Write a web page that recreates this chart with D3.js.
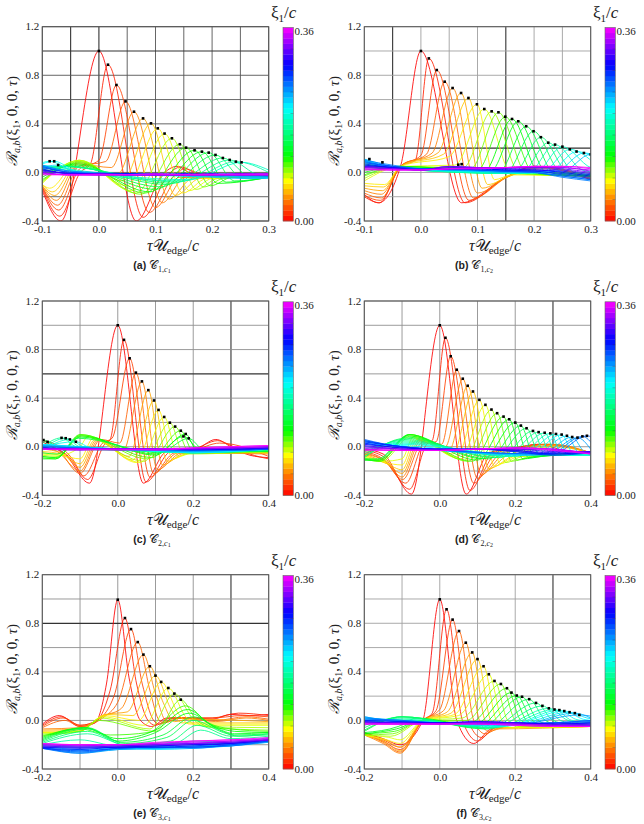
<!DOCTYPE html>
<html>
<head>
<meta charset="utf-8">
<script src="https://cdn.jsdelivr.net/npm/d3@7"></script>
<style>
  body { margin: 0; background: #fff; }
</style>
</head>
<body>
<script>
// colour levels of xi_1/c
var xiLevels = [0.00, 0.01, 0.02, 0.03, 0.04, 0.05, 0.06, 0.07, 0.08, 0.09,
    0.10, 0.11, 0.12, 0.13, 0.14, 0.15, 0.16, 0.17, 0.18, 0.19,
    0.20, 0.21, 0.22, 0.23, 0.24, 0.25, 0.26, 0.27, 0.28, 0.29,
    0.30, 0.31, 0.32, 0.33, 0.34, 0.35, 0.36];
var colorStops = [0, 0.04, 0.075, 0.12, 0.21, 0.29, 0.36];
var colorRange = ["#ff0000", "#ff8000", "#ffff00", "#00ff00", "#00ffff", "#0000ff", "#ff00ff"];

var yTicks = [-0.4, 0.0, 0.4, 0.8, 1.2];
var yGrid = [-0.4, -0.2, 0.0, 0.2, 0.4, 0.6, 0.8, 1.0, 1.2];
var xTicksAB = [-0.1, 0.0, 0.1, 0.2, 0.3];
var xGridAB = [-0.1, -0.05, 0.0, 0.05, 0.1, 0.15, 0.2, 0.25, 0.3];
var xTicksCF = [-0.2, 0.0, 0.2, 0.4];
var xGridCF = [-0.2, -0.1, 0.0, 0.1, 0.2, 0.3, 0.4];
var flatTauAB = [-0.1, -0.05, 0.0, 0.05, 0.1, 0.15, 0.2, 0.25, 0.3];
var flatTauCF = [-0.2, -0.1, 0.0, 0.1, 0.2, 0.3, 0.4];

// (a) knots [tau, R, tau, R, ...]
var curvesA = [
    [-0.1,-0.15, -0.067,-0.40, 0,1.0, 0.066,-0.40, 0.112,-0.02, 0.138,0.05, 0.165,-0.01, 0.3,-0.03],
    [-0.1,-0.13, -0.069,-0.36, -0.033,0.0, -0.015,0.07, 0.016,0.887, 0.078,-0.37, 0.122,-0.02, 0.145,0.045, 0.175,-0.01, 0.3,-0.03],
    [-0.1,-0.12, -0.071,-0.31, -0.034,0.03, 0.0,0.10, 0.031,0.72, 0.089,-0.33, 0.132,-0.03, 0.152,0.03, 0.185,-0.02, 0.3,-0.03],
    [-0.1,-0.12, -0.073,-0.27, -0.035,0.05, 0.012,0.09, 0.047,0.585, 0.10,-0.29, 0.142,-0.04, 0.3,-0.03],
    [-0.1,-0.11, -0.075,-0.23, -0.036,0.07, 0.022,0.04, 0.062,0.50, 0.112,-0.25, 0.152,-0.04, 0.3,-0.03],
    [-0.1,-0.11, -0.078,-0.19, -0.036,0.08, 0.032,-0.02, 0.078,0.445, 0.124,-0.22, 0.165,-0.05, 0.3,-0.03],
    [-0.1,-0.10, -0.082,-0.16, -0.036,0.09, 0.042,-0.07, 0.092,0.404, 0.135,-0.19, 0.178,-0.05, 0.3,-0.03],
    [-0.1,-0.10, -0.087,-0.13, -0.036,0.10, 0.05,-0.11, 0.104,0.363, 0.148,-0.17, 0.19,-0.05, 0.3,-0.03],
    [-0.1,-0.09, -0.035,0.10, 0.058,-0.15, 0.116,0.32, 0.16,-0.15, 0.2,-0.05, 0.3,-0.03],
    [-0.1,-0.08, -0.034,0.10, 0.066,-0.17, 0.129,0.281, 0.172,-0.14, 0.21,-0.05, 0.3,-0.03],
    [-0.1,-0.07, -0.034,0.09, 0.074,-0.18, 0.143,0.232, 0.185,-0.12, 0.22,-0.05, 0.3,-0.03],
    [-0.1,-0.06, -0.035,0.08, 0.082,-0.17, 0.154,0.204, 0.197,-0.11, 0.235,-0.04, 0.3,-0.03],
    [-0.1,-0.04, -0.038,0.07, 0.09,-0.16, 0.169,0.182, 0.21,-0.09, 0.3,-0.04],
    [-0.1,-0.02, -0.042,0.06, 0.10,-0.14, 0.182,0.171, 0.225,-0.08, 0.3,-0.04],
    [-0.1,0.0, -0.048,0.05, 0.11,-0.12, 0.194,0.163, 0.24,-0.07, 0.3,-0.04],
    [-0.1,0.02, -0.055,0.05, 0.12,-0.10, 0.206,0.144, 0.255,-0.05, 0.3,-0.04],
    [-0.1,0.03, -0.06,0.05, 0.13,-0.09, 0.219,0.119, 0.27,-0.04, 0.3,-0.03],
    [-0.1,0.04, -0.07,0.05, 0.14,-0.08, 0.231,0.103, 0.285,-0.02, 0.31,-0.02],
    [-0.1,0.05, 0.15,-0.07, 0.242,0.089, 0.3,0.0],
    [-0.1,0.06, 0.16,-0.06, 0.252,0.083, 0.3,0.02],
    [-0.11,0.06, -0.087,0.092, -0.05,0.02, 0.0,-0.01, 0.15,-0.03, 0.3,-0.04],
    [-0.11,0.05, -0.079,0.092, -0.04,0.01, 0.0,-0.01, 0.15,-0.02, 0.3,-0.04],
    [-0.11,0.03, -0.072,0.061, -0.04,0.0, 0.1,-0.02, 0.3,-0.03]
];
var flatA = [
    [0.05, 0.01, -0.01, -0.02, -0.02, -0.03, -0.04, -0.05, -0.05],
    [0.05, 0.0, -0.01, -0.01, -0.02, -0.02, -0.03, -0.04, -0.04],
    [0.06, 0.01, 0.0, -0.01, -0.01, -0.02, -0.02, -0.03, -0.03],
    [0.05, 0.0, -0.01, -0.01, -0.02, -0.02, -0.02, -0.02, -0.03],
    [0.04, 0.0, -0.01, -0.01, -0.02, -0.01, -0.02, -0.02, -0.02],
    [0.03, -0.01, -0.01, -0.02, -0.02, -0.02, -0.01, -0.02, -0.02],
    [0.02, -0.01, -0.02, -0.01, -0.02, -0.02, -0.02, -0.01, -0.02],
    [0.02, -0.01, -0.01, -0.02, -0.02, -0.01, -0.02, -0.02, -0.01],
    [0.01, -0.01, -0.02, -0.02, -0.01, -0.02, -0.02, -0.01, -0.02],
    [0.0, -0.02, -0.02, -0.02, -0.02, -0.02, -0.01, -0.02, -0.02],
    [0.0, -0.02, -0.01, -0.02, -0.02, -0.02, -0.02, -0.02, -0.01],
    [-0.01, -0.02, -0.02, -0.02, -0.02, -0.02, -0.02, -0.01, -0.01],
    [-0.01, -0.02, -0.02, -0.02, -0.01, -0.02, -0.02, -0.02, -0.02],
    [-0.02, -0.02, -0.02, -0.02, -0.02, -0.02, -0.02, -0.02, -0.02]
];
var dotsA = [[0,1.0],[0.016,0.887],[0.031,0.72],[0.047,0.585],[0.062,0.5],[0.078,0.445],[0.092,0.404],
    [0.104,0.363],[0.116,0.32],[0.129,0.281],[0.143,0.232],[0.154,0.204],[0.169,0.182],[0.182,0.171],
    [0.194,0.163],[0.206,0.144],[0.219,0.119],[0.231,0.103],[0.242,0.089],[0.252,0.083],
    [-0.087,0.092],[-0.079,0.092],[-0.072,0.061]];

// (b)
var curvesB = [
    [-0.1,-0.18, -0.075,-0.25, -0.036,0.05, 0,1.0, 0.072,-0.25, 0.15,-0.04, 0.2,0.05, 0.25,0.02, 0.3,-0.06],
    [-0.1,-0.2, -0.073,-0.25, -0.036,0.05, -0.01,0.1, 0.014,0.939, 0.078,-0.25, 0.15,-0.04, 0.2,0.05, 0.3,-0.06],
    [-0.1,-0.19, -0.072,-0.23, -0.036,0.05, 0.0,0.14, 0.028,0.843, 0.085,-0.23, 0.15,-0.04, 0.2,0.05, 0.3,-0.05],
    [-0.1,-0.17, -0.07,-0.21, -0.036,0.05, 0.01,0.15, 0.042,0.747, 0.093,-0.21, 0.152,-0.04, 0.21,0.05, 0.3,-0.05],
    [-0.1,-0.15, -0.07,-0.18, -0.036,0.05, 0.02,0.16, 0.056,0.695, 0.1,-0.17, 0.152,-0.04, 0.21,0.04, 0.3,-0.05],
    [-0.1,-0.13, -0.068,-0.15, -0.036,0.05, 0.03,0.16, 0.071,0.654, 0.108,-0.13, 0.154,-0.03, 0.22,0.04, 0.3,-0.04],
    [-0.1,-0.11, -0.066,-0.12, -0.036,0.05, 0.04,0.15, 0.084,0.613, 0.118,-0.10, 0.156,-0.03, 0.22,0.03, 0.3,-0.04],
    [-0.1,-0.09, -0.064,-0.10, -0.036,0.05, 0.05,0.13, 0.099,0.561, 0.13,-0.06, 0.16,-0.02, 0.3,-0.03],
    [-0.1,-0.07, -0.036,0.05, 0.06,0.06, 0.112,0.522, 0.16,-0.01, 0.3,-0.03],
    [-0.1,-0.05, -0.036,0.05, 0.075,0.04, 0.125,0.503, 0.175,-0.01, 0.3,-0.03],
    [-0.1,-0.03, -0.036,0.05, 0.088,0.03, 0.137,0.495, 0.187,-0.01, 0.3,-0.03],
    [-0.1,-0.02, -0.036,0.05, 0.1,0.02, 0.149,0.459, 0.2,-0.01, 0.3,-0.03],
    [-0.1,0.0, -0.036,0.05, 0.112,0.01, 0.161,0.44, 0.21,-0.01, 0.3,-0.03],
    [-0.1,0.02, -0.036,0.04, 0.123,0.01, 0.172,0.421, 0.222,0.0, 0.3,-0.03],
    [-0.1,0.04, -0.036,0.04, 0.137,0.0, 0.186,0.38, 0.235,0.0, 0.3,-0.02],
    [-0.1,0.06, -0.036,0.03, 0.15,0.0, 0.199,0.339, 0.248,0.0, 0.3,-0.02],
    [-0.1,0.07, -0.036,0.03, 0.163,-0.01, 0.212,0.29, 0.26,0.0, 0.3,-0.02],
    [-0.1,0.08, -0.036,0.03, 0.176,-0.01, 0.225,0.245, 0.272,0.0, 0.31,-0.01],
    [-0.1,0.09, -0.036,0.03, 0.188,-0.01, 0.237,0.229, 0.285,0.02, 0.31,0.0],
    [-0.1,0.1, -0.036,0.03, 0.2,-0.01, 0.25,0.212, 0.3,0.04, 0.32,0.02],
    [-0.1,0.1, -0.036,0.03, 0.213,0.0, 0.263,0.19, 0.31,0.06],
    [-0.1,0.11, -0.036,0.03, 0.225,0.0, 0.275,0.172, 0.32,0.08],
    [-0.1,0.1, -0.036,0.03, 0.238,0.01, 0.288,0.16, 0.33,0.09],
    [-0.1,0.09, -0.036,0.03, 0.25,0.01, 0.3,0.149, 0.34,0.1]
];
var flatB = [
    [0.11, 0.05, 0.03, 0.02, 0.01, 0.0, 0.0, -0.03, -0.06],
    [0.1, 0.06, 0.03, 0.02, 0.02, 0.01, 0.0, -0.04, -0.07],
    [0.09, 0.05, 0.03, 0.03, 0.02, 0.01, 0.0, -0.03, -0.06],
    [0.08, 0.05, 0.03, 0.03, 0.02, 0.01, 0.01, -0.02, -0.05],
    [0.07, 0.04, 0.02, 0.03, 0.03, 0.02, 0.01, -0.01, -0.04],
    [0.06, 0.04, 0.02, 0.03, 0.03, 0.02, 0.02, 0.0, -0.03],
    [0.05, 0.04, 0.02, 0.04, 0.04, 0.03, 0.02, 0.01, -0.02],
    [0.05, 0.03, 0.02, 0.05, 0.04, 0.03, 0.03, 0.02, -0.01],
    [0.04, 0.03, 0.02, 0.05, 0.04, 0.04, 0.04, 0.03, 0.0],
    [0.04, 0.03, 0.02, 0.03, 0.04, 0.04, 0.04, 0.04, 0.01],
    [0.03, 0.02, 0.02, 0.03, 0.04, 0.04, 0.05, 0.04, 0.02],
    [0.03, 0.02, 0.02, 0.03, 0.03, 0.04, 0.05, 0.05, 0.03],
    [0.02, 0.02, 0.02, 0.03, 0.03, 0.04, 0.05, 0.05, 0.04]
];
var dotsB = [[0,1.0],[0.014,0.939],[0.028,0.843],[0.042,0.747],[0.056,0.695],[0.071,0.654],[0.084,0.613],
    [0.099,0.561],[0.112,0.522],[0.125,0.503],[0.137,0.495],[0.149,0.459],[0.161,0.44],[0.172,0.421],
    [0.186,0.38],[0.199,0.339],[0.212,0.29],[0.225,0.245],[0.237,0.229],[0.25,0.212],[0.263,0.19],
    [0.275,0.172],[0.288,0.16],[0.3,0.149],[-0.091,0.11],[-0.068,0.083],[0.066,0.064],[0.072,0.068]];

// (c)
var curvesC = [
    [-0.2,0.04, -0.175,0.0, -0.14,-0.06, -0.075,-0.30, 0,1.0, 0.068,-0.30, 0.13,-0.04, 0.2,-0.03, 0.26,0.06, 0.3,0.0, 0.35,-0.07, 0.4,-0.09],
    [-0.2,0.06, -0.17,0.0, -0.13,-0.08, -0.08,-0.27, -0.035,0.02, -0.02,0.06, 0.0164,0.88, 0.075,-0.29, 0.14,-0.04, 0.2,-0.02, 0.265,0.05, 0.3,0.01, 0.35,-0.06, 0.4,-0.1],
    [-0.2,0.05, -0.165,0.02, -0.12,-0.1, -0.09,-0.24, -0.04,0.03, -0.015,0.07, 0.0314,0.728, 0.085,-0.25, 0.15,-0.05, 0.2,-0.03, 0.27,0.03, 0.4,-0.08],
    [-0.2,0.02, -0.16,-0.02, -0.1,-0.22, -0.045,0.06, 0.005,0.03, 0.048,0.61, 0.095,-0.22, 0.16,-0.05, 0.4,-0.06],
    [-0.2,0.0, -0.16,-0.04, -0.1,-0.2, -0.05,0.06, 0.015,-0.03, 0.064,0.538, 0.105,-0.19, 0.17,-0.05, 0.4,-0.05],
    [-0.2,-0.02, -0.15,-0.05, -0.1,-0.17, -0.055,0.06, 0.03,-0.08, 0.081,0.466, 0.118,-0.15, 0.18,-0.05, 0.4,-0.05],
    [-0.2,-0.04, -0.15,-0.06, -0.1,-0.14, -0.06,0.06, 0.04,-0.11, 0.096,0.381, 0.13,-0.12, 0.19,-0.05, 0.4,-0.05],
    [-0.2,-0.05, -0.15,-0.07, -0.1,-0.1, -0.065,0.07, 0.05,-0.13, 0.108,0.303, 0.145,-0.1, 0.2,-0.04, 0.4,-0.05],
    [-0.2,-0.06, -0.155,-0.07, -0.1,0.0, -0.08,0.08, 0.06,-0.13, 0.123,0.245, 0.16,-0.08, 0.21,-0.04, 0.4,-0.04],
    [-0.2,-0.07, -0.16,-0.08, -0.095,0.09, 0.07,-0.12, 0.138,0.198, 0.175,-0.06, 0.4,-0.04],
    [-0.2,-0.08, -0.16,-0.09, -0.098,0.1, 0.08,-0.1, 0.152,0.166, 0.19,-0.05, 0.4,-0.04],
    [-0.2,-0.09, -0.165,-0.1, -0.1,0.1, 0.09,-0.09, 0.167,0.132, 0.2,-0.04, 0.4,-0.04],
    [-0.2,-0.1, -0.165,-0.1, -0.1,0.09, 0.1,-0.07, 0.18,0.105, 0.21,-0.03, 0.4,-0.04],
    [-0.2,-0.08, -0.165,-0.09, -0.1,0.08, 0.1,-0.06, 0.174,0.085, 0.22,-0.03, 0.4,-0.04],
    [-0.2,-0.05, -0.16,-0.06, -0.105,0.07, 0.11,-0.05, 0.188,0.069, 0.23,-0.03, 0.4,-0.04],
    [-0.21,0.05, -0.197,0.055, -0.16,0.0, -0.1,-0.02, 0.0,-0.03, 0.2,-0.05, 0.4,-0.03],
    [-0.21,0.03, -0.186,0.04, -0.16,0.0, -0.1,-0.01, 0.0,-0.02, 0.2,-0.05, 0.4,-0.03],
    [-0.2,0.0, -0.149,0.073, -0.11,0.0, -0.05,-0.02, 0.1,-0.03, 0.2,-0.05, 0.4,-0.02],
    [-0.2,-0.02, -0.138,0.07, -0.1,0.0, -0.05,-0.01, 0.1,-0.03, 0.2,-0.04, 0.4,-0.02],
    [-0.2,-0.03, -0.127,0.06, -0.09,0.0, 0.0,-0.02, 0.2,-0.04, 0.4,-0.02],
    [-0.2,0.0, -0.111,0.041, -0.07,-0.01, 0.0,-0.02, 0.2,-0.04, 0.4,-0.02]
];
var flatC = [
    [0.02, 0.0, -0.02, -0.04, -0.05, -0.04, -0.02],
    [0.02, 0.0, -0.02, -0.03, -0.05, -0.04, -0.02],
    [0.01, 0.0, -0.02, -0.03, -0.04, -0.03, -0.02],
    [0.01, -0.01, -0.02, -0.03, -0.04, -0.03, -0.02],
    [0.0, -0.01, -0.02, -0.03, -0.03, -0.03, -0.02],
    [0.0, -0.01, -0.02, -0.02, -0.03, -0.03, -0.02],
    [-0.01, -0.02, -0.02, -0.02, -0.03, -0.02, -0.02],
    [-0.01, -0.02, -0.02, -0.02, -0.02, -0.02, -0.01],
    [-0.01, -0.02, -0.02, -0.02, -0.02, -0.02, -0.01],
    [-0.02, -0.02, -0.02, -0.02, -0.02, -0.02, -0.01],
    [-0.02, -0.02, -0.02, -0.02, -0.02, -0.01, -0.01],
    [-0.02, -0.02, -0.02, -0.02, -0.02, -0.01, 0.0],
    [-0.02, -0.03, -0.02, -0.02, -0.02, -0.01, 0.0],
    [-0.02, -0.02, -0.03, -0.02, -0.01, -0.01, 0.0],
    [-0.02, -0.02, -0.02, -0.03, -0.01, 0.0, 0.01],
    [-0.02, -0.02, -0.02, -0.02, -0.01, 0.0, 0.01]
];
var dotsC = [[0,1.0],[0.0164,0.88],[0.0314,0.728],[0.048,0.61],[0.064,0.538],[0.081,0.466],[0.096,0.381],
    [0.108,0.303],[0.123,0.245],[0.138,0.198],[0.152,0.166],[0.167,0.132],[0.18,0.105],[0.174,0.085],
    [0.188,0.069],[-0.197,0.055],[-0.186,0.04],[-0.149,0.073],[-0.138,0.07],[-0.127,0.06],[-0.111,0.041]];

// (d)
var curvesD = [
    [-0.2,-0.02, -0.15,-0.06, -0.075,-0.39, 0,1.0, 0.07,-0.39, 0.13,-0.05, 0.2,-0.01, 0.26,0.02, 0.33,-0.03, 0.4,-0.05],
    [-0.2,-0.03, -0.15,-0.08, -0.08,-0.35, -0.035,0.02, -0.02,0.05, 0.015,0.897, 0.08,-0.36, 0.14,-0.05, 0.2,-0.01, 0.27,0.02, 0.4,-0.05],
    [-0.2,-0.04, -0.15,-0.1, -0.09,-0.3, -0.04,0.03, -0.01,0.04, 0.029,0.745, 0.09,-0.3, 0.15,-0.05, 0.2,-0.02, 0.28,0.02, 0.4,-0.05],
    [-0.2,-0.05, -0.145,-0.12, -0.098,-0.27, -0.045,0.04, 0.005,0.02, 0.045,0.634, 0.1,-0.26, 0.16,-0.06, 0.29,0.02, 0.4,-0.05],
    [-0.2,-0.06, -0.14,-0.13, -0.1,-0.25, -0.05,0.05, 0.015,0.0, 0.061,0.56, 0.11,-0.23, 0.17,-0.06, 0.3,0.02, 0.4,-0.05],
    [-0.2,-0.06, -0.14,-0.14, -0.1,-0.22, -0.055,0.05, 0.025,-0.03, 0.074,0.502, 0.12,-0.2, 0.18,-0.07, 0.3,0.01, 0.4,-0.05],
    [-0.2,-0.07, -0.14,-0.14, -0.1,-0.19, -0.06,0.06, 0.035,-0.06, 0.088,0.455, 0.13,-0.18, 0.19,-0.08, 0.3,0.0, 0.4,-0.05],
    [-0.2,-0.07, -0.145,-0.13, -0.1,-0.15, -0.065,0.07, 0.045,-0.08, 0.105,0.386, 0.145,-0.16, 0.2,-0.08, 0.4,-0.05],
    [-0.2,-0.08, -0.15,-0.12, -0.1,-0.1, -0.07,0.08, 0.055,-0.1, 0.121,0.345, 0.16,-0.14, 0.21,-0.08, 0.4,-0.05],
    [-0.2,-0.09, -0.155,-0.12, -0.075,0.09, 0.065,-0.11, 0.137,0.306, 0.175,-0.13, 0.22,-0.08, 0.4,-0.05],
    [-0.2,-0.1, -0.16,-0.12, -0.078,0.1, 0.075,-0.12, 0.152,0.276, 0.19,-0.12, 0.24,-0.08, 0.4,-0.05],
    [-0.2,-0.1, -0.16,-0.12, -0.08,0.1, 0.085,-0.12, 0.169,0.248, 0.205,-0.11, 0.25,-0.08, 0.4,-0.05],
    [-0.2,-0.11, -0.16,-0.11, -0.082,0.1, 0.1,-0.11, 0.184,0.226, 0.22,-0.1, 0.27,-0.08, 0.4,-0.05],
    [-0.2,-0.11, -0.165,-0.11, -0.085,0.09, 0.115,-0.1, 0.2,0.199, 0.235,-0.09, 0.29,-0.07, 0.4,-0.05],
    [-0.2,-0.1, -0.165,-0.1, -0.088,0.08, 0.13,-0.1, 0.215,0.174, 0.25,-0.08, 0.31,-0.07, 0.4,-0.05],
    [-0.2,-0.09, -0.09,0.07, 0.145,-0.09, 0.23,0.152, 0.265,-0.07, 0.4,-0.05],
    [-0.2,-0.08, -0.095,0.06, 0.16,-0.09, 0.247,0.13, 0.28,-0.07, 0.4,-0.06],
    [-0.2,-0.06, -0.1,0.05, 0.175,-0.08, 0.262,0.12, 0.295,-0.07, 0.4,-0.06],
    [-0.2,-0.04, -0.1,0.04, 0.19,-0.08, 0.278,0.115, 0.31,-0.07, 0.4,-0.07],
    [-0.2,-0.02, -0.1,0.03, 0.205,-0.08, 0.293,0.11, 0.325,-0.07, 0.4,-0.07],
    [-0.2,0.0, -0.1,0.02, 0.22,-0.07, 0.308,0.105, 0.34,-0.07, 0.4,-0.07],
    [-0.2,0.02, -0.1,0.01, 0.235,-0.07, 0.323,0.1, 0.355,-0.06, 0.4,-0.06],
    [-0.2,0.03, -0.1,0.0, 0.25,-0.07, 0.337,0.09, 0.37,-0.05, 0.41,-0.05],
    [-0.2,0.04, -0.1,0.0, 0.265,-0.07, 0.351,0.08, 0.385,-0.04, 0.42,-0.04],
    [-0.2,0.05, -0.1,0.0, 0.28,-0.06, 0.365,0.075, 0.4,-0.02],
    [-0.2,0.05, -0.1,0.0, 0.29,-0.06, 0.378,0.085, 0.41,0.0],
    [-0.2,0.06, -0.1,0.0, 0.3,-0.06, 0.39,0.09, 0.42,0.04]
];
var flatD = [
    [0.05, 0.0, -0.02, -0.02, -0.04, -0.06, -0.05],
    [0.04, 0.0, -0.02, -0.02, -0.04, -0.07, -0.05],
    [0.03, -0.01, -0.02, -0.02, -0.03, -0.06, -0.04],
    [0.02, -0.01, -0.02, -0.02, -0.03, -0.05, -0.04],
    [0.01, -0.02, -0.03, -0.02, -0.02, -0.04, -0.04],
    [0.0, -0.02, -0.03, -0.02, -0.02, -0.03, -0.05],
    [-0.01, -0.02, -0.03, -0.02, -0.01, -0.02, -0.05],
    [-0.02, -0.03, -0.03, -0.02, -0.01, -0.02, -0.06],
    [-0.02, -0.03, -0.03, -0.02, -0.01, -0.02, -0.06],
    [-0.03, -0.03, -0.03, -0.02, -0.01, -0.03, -0.06]
];
var dotsD = [[0,1.0],[0.015,0.897],[0.029,0.745],[0.045,0.634],[0.061,0.56],[0.074,0.502],[0.088,0.455],
    [0.105,0.386],[0.121,0.345],[0.137,0.306],[0.152,0.276],[0.169,0.248],[0.184,0.226],[0.2,0.199],
    [0.215,0.174],[0.23,0.152],[0.247,0.13],[0.262,0.12],[0.278,0.115],[0.293,0.11],[0.308,0.105],
    [0.323,0.1],[0.337,0.09],[0.351,0.08],[0.365,0.075],[0.378,0.085],[0.39,0.09]];

// (e)
var curvesE = [
    [-0.2,-0.03, -0.155,0.04, -0.1,-0.05, -0.06,-0.02, -0.03,0.3, 0,0.994, 0.03,0.35, 0.06,0.0, 0.09,-0.05, 0.13,0.02, 0.2,0.02, 0.25,0.01, 0.3,0.05, 0.35,0.04, 0.4,0.05],
    [-0.2,-0.04, -0.15,0.03, -0.1,-0.04, -0.055,0.0, -0.02,0.25, 0.019,0.843, 0.05,0.3, 0.08,0.0, 0.1,-0.04, 0.14,0.02, 0.25,0.02, 0.32,0.06, 0.4,0.04],
    [-0.2,-0.05, -0.145,0.02, -0.1,-0.04, -0.05,0.01, -0.01,0.2, 0.035,0.752, 0.065,0.3, 0.095,0.0, 0.11,-0.03, 0.15,0.02, 0.25,0.02, 0.33,0.04, 0.4,0.03],
    [-0.2,-0.06, -0.14,0.0, -0.1,-0.05, -0.04,0.02, 0.0,0.15, 0.053,0.645, 0.085,0.25, 0.11,0.0, 0.125,-0.02, 0.16,0.02, 0.26,0.0, 0.34,0.03, 0.4,0.01],
    [-0.2,-0.07, -0.1,-0.06, -0.035,0.04, 0.01,0.1, 0.068,0.542, 0.1,0.22, 0.13,-0.01, 0.17,0.02, 0.26,-0.01, 0.34,0.02, 0.4,0.0],
    [-0.2,-0.08, -0.1,-0.07, -0.03,0.05, 0.025,0.07, 0.085,0.446, 0.12,0.15, 0.15,-0.01, 0.19,0.01, 0.4,-0.01],
    [-0.2,-0.09, -0.1,-0.08, -0.03,0.05, 0.04,0.04, 0.1,0.369, 0.14,0.1, 0.17,-0.02, 0.4,-0.02],
    [-0.2,-0.1, -0.1,-0.09, -0.035,0.04, 0.055,0.0, 0.115,0.317, 0.16,0.06, 0.19,-0.03, 0.4,-0.03],
    [-0.2,-0.1, -0.1,-0.09, -0.04,0.03, 0.07,-0.04, 0.134,0.267, 0.18,0.03, 0.21,-0.04, 0.4,-0.04],
    [-0.2,-0.11, -0.1,-0.09, -0.045,0.02, 0.085,-0.07, 0.15,0.221, 0.2,0.01, 0.23,-0.05, 0.4,-0.06],
    [-0.2,-0.12, -0.1,-0.09, -0.05,0.0, 0.1,-0.09, 0.167,0.171, 0.21,0.0, 0.25,-0.06, 0.4,-0.08],
    [-0.2,-0.13, -0.1,-0.07, -0.02,-0.12, 0.08,-0.1, 0.18,0.12, 0.24,-0.02, 0.3,-0.07, 0.4,-0.09],
    [-0.2,-0.14, -0.09,-0.06, 0.0,-0.15, 0.1,-0.08, 0.185,0.09, 0.25,-0.04, 0.31,-0.09, 0.4,-0.1],
    [-0.2,-0.15, -0.085,-0.06, 0.0,-0.17, 0.1,-0.1, 0.19,0.06, 0.26,-0.06, 0.31,-0.11, 0.4,-0.1],
    [-0.2,-0.16, -0.08,-0.06, 0.01,-0.18, 0.12,-0.12, 0.2,0.03, 0.27,-0.08, 0.31,-0.12, 0.4,-0.11],
    [-0.2,-0.17, -0.08,-0.07, 0.02,-0.19, 0.13,-0.14, 0.2,0.0, 0.28,-0.1, 0.32,-0.13, 0.4,-0.11],
    [-0.2,-0.18, -0.08,-0.09, 0.02,-0.2, 0.14,-0.17, 0.21,-0.04, 0.3,-0.13, 0.4,-0.12],
    [-0.2,-0.19, -0.08,-0.11, 0.03,-0.21, 0.15,-0.19, 0.22,-0.08, 0.3,-0.15, 0.4,-0.13]
];
var flatE = [
    [-0.2, -0.16, -0.21, -0.2, -0.17, -0.18, -0.14],
    [-0.2, -0.2, -0.22, -0.21, -0.19, -0.19, -0.15],
    [-0.21, -0.22, -0.22, -0.22, -0.21, -0.2, -0.16],
    [-0.21, -0.24, -0.23, -0.23, -0.22, -0.2, -0.17],
    [-0.22, -0.25, -0.23, -0.24, -0.23, -0.21, -0.17],
    [-0.22, -0.26, -0.24, -0.23, -0.22, -0.21, -0.18],
    [-0.22, -0.27, -0.24, -0.23, -0.22, -0.2, -0.18],
    [-0.23, -0.27, -0.23, -0.22, -0.23, -0.2, -0.17],
    [-0.23, -0.26, -0.23, -0.22, -0.22, -0.21, -0.17],
    [-0.23, -0.25, -0.23, -0.22, -0.22, -0.2, -0.17],
    [-0.23, -0.24, -0.22, -0.22, -0.21, -0.19, -0.16],
    [-0.22, -0.23, -0.22, -0.21, -0.2, -0.19, -0.16],
    [-0.22, -0.22, -0.22, -0.21, -0.2, -0.19, -0.16],
    [-0.21, -0.22, -0.21, -0.2, -0.19, -0.18, -0.16],
    [-0.21, -0.21, -0.21, -0.2, -0.19, -0.18, -0.16],
    [-0.2, -0.21, -0.2, -0.2, -0.19, -0.17, -0.16],
    [-0.2, -0.2, -0.2, -0.19, -0.18, -0.17, -0.15],
    [-0.19, -0.2, -0.2, -0.19, -0.17, -0.16, -0.15],
    [-0.19, -0.2, -0.2, -0.18, -0.17, -0.16, -0.14]
];
var dotsE = [[0,0.994],[0.019,0.843],[0.035,0.752],[0.053,0.645],[0.068,0.542],[0.085,0.446],
    [0.1,0.369],[0.115,0.317],[0.134,0.267],[0.15,0.221],[0.167,0.171]];

// (f)
var curvesF = [
    [-0.2,-0.1, -0.15,-0.15, -0.105,-0.2, -0.045,0.0, 0,0.997, 0.045,0.0, 0.09,-0.19, 0.13,-0.08, 0.16,-0.04, 0.4,-0.05],
    [-0.2,-0.1, -0.15,-0.16, -0.105,-0.22, -0.045,0.0, -0.02,0.06, 0.018,0.915, 0.06,0.0, 0.1,-0.17, 0.14,-0.07, 0.17,-0.04, 0.4,-0.05],
    [-0.2,-0.11, -0.15,-0.17, -0.105,-0.24, -0.045,0.0, -0.01,0.08, 0.034,0.83, 0.075,0.0, 0.11,-0.14, 0.15,-0.06, 0.4,-0.05],
    [-0.2,-0.11, -0.15,-0.18, -0.105,-0.26, -0.045,0.0, 0.0,0.09, 0.051,0.736, 0.09,0.0, 0.12,-0.11, 0.16,-0.06, 0.4,-0.05],
    [-0.2,-0.12, -0.15,-0.19, -0.105,-0.27, -0.045,0.0, 0.01,0.08, 0.069,0.64, 0.105,0.0, 0.13,-0.09, 0.17,-0.06, 0.4,-0.05],
    [-0.2,-0.12, -0.145,-0.18, -0.105,-0.25, -0.045,0.0, 0.02,0.07, 0.086,0.56, 0.12,0.0, 0.145,-0.07, 0.4,-0.05],
    [-0.2,-0.12, -0.14,-0.17, -0.105,-0.22, -0.045,0.0, 0.03,0.06, 0.1,0.505, 0.135,0.0, 0.16,-0.06, 0.4,-0.05],
    [-0.2,-0.12, -0.14,-0.16, -0.105,-0.19, -0.045,0.0, 0.04,0.05, 0.116,0.446, 0.15,0.0, 0.175,-0.06, 0.4,-0.05],
    [-0.2,-0.12, -0.135,-0.14, -0.105,-0.16, -0.045,0.0, 0.05,0.04, 0.13,0.38, 0.165,0.0, 0.19,-0.06, 0.4,-0.05],
    [-0.2,-0.12, -0.13,-0.13, -0.045,0.0, 0.06,0.02, 0.145,0.325, 0.18,0.0, 0.21,-0.05, 0.4,-0.05],
    [-0.2,-0.12, -0.125,-0.11, -0.045,0.0, 0.07,0.0, 0.162,0.3, 0.2,0.0, 0.23,-0.04, 0.4,-0.05],
    [-0.2,-0.11, -0.12,-0.09, -0.045,0.0, 0.08,-0.02, 0.178,0.265, 0.215,0.0, 0.25,-0.04, 0.4,-0.05],
    [-0.2,-0.11, -0.115,-0.07, -0.045,0.0, 0.09,-0.04, 0.19,0.229, 0.23,0.0, 0.26,-0.04, 0.4,-0.05],
    [-0.2,-0.1, -0.11,-0.05, -0.06,0.02, 0.1,-0.05, 0.204,0.205, 0.245,0.0, 0.28,-0.04, 0.4,-0.05],
    [-0.2,-0.09, -0.1,0.03, 0.11,-0.06, 0.218,0.195, 0.26,0.0, 0.3,-0.04, 0.4,-0.05],
    [-0.2,-0.08, -0.1,0.03, 0.12,-0.07, 0.237,0.175, 0.28,0.0, 0.32,-0.04, 0.4,-0.05],
    [-0.2,-0.06, -0.1,0.03, 0.13,-0.07, 0.255,0.144, 0.3,0.0, 0.34,-0.03, 0.4,-0.04],
    [-0.2,-0.04, -0.1,0.02, 0.14,-0.06, 0.272,0.12, 0.32,0.0, 0.36,-0.03, 0.4,-0.04],
    [-0.2,-0.02, -0.1,0.01, 0.15,-0.06, 0.289,0.1, 0.34,0.0, 0.4,-0.03],
    [-0.2,0.0, -0.1,0.0, 0.16,-0.05, 0.304,0.09, 0.35,0.0, 0.4,-0.02],
    [-0.2,0.01, -0.1,0.0, 0.17,-0.05, 0.317,0.085, 0.36,0.01, 0.4,-0.01],
    [-0.2,0.02, -0.1,0.0, 0.18,-0.04, 0.33,0.077, 0.38,0.01, 0.4,0.0],
    [-0.2,0.02, -0.1,-0.01, 0.19,-0.04, 0.344,0.068, 0.39,0.02, 0.41,0.01],
    [-0.2,0.03, -0.1,-0.01, 0.2,-0.04, 0.358,0.06, 0.4,0.02],
    [-0.2,0.03, -0.1,-0.01, 0.21,-0.03, 0.37,0.045, 0.41,0.03]
];
var flatF = [
    [0.02, 0.0, -0.02, -0.03, -0.03, -0.02, 0.0],
    [0.01, 0.0, -0.02, -0.02, -0.03, -0.02, 0.0],
    [0.0, -0.01, -0.02, -0.02, -0.02, -0.02, -0.01],
    [0.0, -0.01, -0.02, -0.02, -0.02, -0.03, -0.02],
    [-0.01, -0.02, -0.02, -0.01, -0.02, -0.03, -0.02],
    [-0.01, -0.02, -0.02, -0.01, -0.02, -0.03, -0.03],
    [-0.02, -0.02, -0.03, -0.01, -0.02, -0.04, -0.03],
    [-0.02, -0.02, -0.03, -0.02, -0.03, -0.04, -0.04],
    [-0.02, -0.03, -0.03, -0.02, -0.03, -0.04, -0.04],
    [-0.03, -0.03, -0.03, -0.02, -0.03, -0.04, -0.05],
    [-0.03, -0.03, -0.03, -0.03, -0.04, -0.05, -0.05],
    [-0.03, -0.03, -0.03, -0.03, -0.04, -0.05, -0.05]
];
var dotsF = [[0,0.997],[0.018,0.915],[0.034,0.83],[0.051,0.736],[0.069,0.64],[0.086,0.56],[0.1,0.505],
    [0.116,0.446],[0.13,0.38],[0.145,0.325],[0.162,0.3],[0.178,0.265],[0.19,0.229],[0.204,0.205],
    [0.218,0.195],[0.237,0.175],[0.255,0.144],[0.272,0.12],[0.289,0.1],[0.304,0.09],[0.317,0.085],
    [0.33,0.077],[0.344,0.068],[0.358,0.06],[0.37,0.045]];

var panelLetters = ["a", "b", "c", "d", "e", "f"];
var captionIndex = ["1", "1", "2", "2", "3", "3"];
var captionSub = ["1", "2", "1", "2", "1", "2"];

var panels = [
    {col: 0, row: 0, domain: [-0.1, 0.3], xTicks: xTicksAB, xGrid: xGridAB, tau: flatTauAB, curves: curvesA, flat: flatA, dots: dotsA, grid: "#555", darkX: [-0.05, 0.0], darkY: [1.0, 0.2]},
    {col: 1, row: 0, domain: [-0.1, 0.3], xTicks: xTicksAB, xGrid: xGridAB, tau: flatTauAB, curves: curvesB, flat: flatB, dots: dotsB, grid: "#a0a0a0", darkX: [-0.05, 0.15], darkY: [0.2]},
    {col: 0, row: 1, domain: [-0.2, 0.4], xTicks: xTicksCF, xGrid: xGridCF, tau: flatTauCF, curves: curvesC, flat: flatC, dots: dotsC, grid: "#909090", darkX: [0.3], darkY: [0.6]},
    {col: 1, row: 1, domain: [-0.2, 0.4], xTicks: xTicksCF, xGrid: xGridCF, tau: flatTauCF, curves: curvesD, flat: flatD, dots: dotsD, grid: "#909090", darkX: [0.3], darkY: []},
    {col: 0, row: 2, domain: [-0.2, 0.4], xTicks: xTicksCF, xGrid: xGridCF, tau: flatTauCF, curves: curvesE, flat: flatE, dots: dotsE, grid: "#909090", darkX: [0.3], darkY: [0.8, 0.2]},
    {col: 1, row: 2, domain: [-0.2, 0.4], xTicks: xTicksCF, xGrid: xGridCF, tau: flatTauCF, curves: curvesF, flat: flatF, dots: dotsF, grid: "#a0a0a0", darkX: [0.3], darkY: []}
];

var colX = [0, 322];
var rowY = [0, 274.3, 548];
var plotL = 42.3, plotR = 268.7, plotT = 26.7, plotB = 221;
var serif = "'Liberation Serif', 'DejaVu Serif', serif";

var color = d3.scaleLinear()
    .domain(colorStops)
    .range(colorRange)
    .interpolate(d3.interpolateHsl);

var svg = d3.select("body")
    .append("svg")
    .attr("width", 644)
    .attr("height", 824);

function toPairs(flatList) {
    var out = [];
    for (var k = 0; k < flatList.length; k += 2) {
        out.push([flatList[k], flatList[k + 1]]);
    }
    return out;
}

panels.forEach(function (p, pi) {
    var g = svg.append("g")
        .attr("transform", "translate(" + colX[p.col] + "," + rowY[p.row] + ")");

    var x = d3.scaleLinear().domain(p.domain).range([plotL, plotR]);
    var y = d3.scaleLinear().domain([-0.4, 1.2]).range([plotB, plotT]);

    // grid
    g.selectAll(".gx")
        .data(p.xGrid)
        .enter().append("line")
        .attr("x1", function (d) { return x(d); })
        .attr("x2", function (d) { return x(d); })
        .attr("y1", plotT).attr("y2", plotB)
        .attr("stroke", function (d) { return p.darkX.indexOf(d) >= 0 ? "#444" : p.grid; })
        .attr("stroke-width", function (d) { return p.darkX.indexOf(d) >= 0 ? 1.2 : 0.9; });
    g.selectAll(".gy")
        .data(yGrid)
        .enter().append("line")
        .attr("y1", function (d) { return y(d); })
        .attr("y2", function (d) { return y(d); })
        .attr("x1", plotL).attr("x2", plotR)
        .attr("stroke", function (d) { return p.darkY.indexOf(d) >= 0 ? "#333" : p.grid; })
        .attr("stroke-width", function (d) { return p.darkY.indexOf(d) >= 0 ? 1.2 : 0.9; });

    svg.append("clipPath")
        .attr("id", "clip" + pi)
        .append("rect")
        .attr("x", plotL).attr("y", plotT)
        .attr("width", plotR - plotL).attr("height", plotB - plotT);

    var line = d3.line()
        .x(function (d) { return x(d[0]); })
        .y(function (d) { return y(d[1]); })
        .curve(d3.curveMonotoneX);

    var plot = g.append("g").attr("clip-path", "url(#clip" + pi + ")");

    p.curves.forEach(function (c, i) {
        plot.append("path")
            .attr("d", line(toPairs(c)))
            .attr("fill", "none")
            .attr("stroke", color(xiLevels[i]))
            .attr("stroke-width", 0.85);
    });
    p.flat.forEach(function (vals, j) {
        var pts = p.tau.map(function (t, k) { return [t, vals[k]]; });
        plot.append("path")
            .attr("d", line(pts))
            .attr("fill", "none")
            .attr("stroke", color(xiLevels[p.curves.length + j]))
            .attr("stroke-width", 0.85);
    });

    plot.selectAll(".dot")
        .data(p.dots)
        .enter().append("rect")
        .attr("x", function (d) { return x(d[0]) - 1.3; })
        .attr("y", function (d) { return y(d[1]) - 1.3; })
        .attr("width", 2.6).attr("height", 2.6)
        .attr("fill", "#000");

    g.append("rect")
        .attr("x", plotL).attr("y", plotT)
        .attr("width", plotR - plotL).attr("height", plotB - plotT)
        .attr("fill", "none").attr("stroke", "#555").attr("stroke-width", 1);

    // axes (labels only)
    var ya = g.append("g")
        .attr("transform", "translate(" + plotL + ",0)")
        .call(d3.axisLeft(y).tickValues(yTicks).tickSize(0).tickPadding(3)
            .tickFormat(function (d) { return d.toFixed(1); }));
    ya.select(".domain").remove();
    ya.attr("font-family", serif).attr("font-size", 11);
    ya.selectAll("text").attr("fill", "#222").attr("dy", "0.28em");

    var xa = g.append("g")
        .attr("transform", "translate(0," + plotB + ")")
        .call(d3.axisBottom(x).tickValues(p.xTicks).tickSize(0).tickPadding(4)
            .tickFormat(function (d) { return d.toFixed(1); }));
    xa.select(".domain").remove();
    xa.attr("font-family", serif).attr("font-size", 11);
    xa.selectAll("text").attr("fill", "#222");

    // y label
    var yl = g.append("text")
        .attr("transform", "translate(17,121) rotate(-90)")
        .attr("text-anchor", "middle")
        .attr("font-family", serif)
        .attr("font-size", 15)
        .attr("fill", "#222");
    yl.append("tspan").attr("font-style", "italic").text("\u211B");
    yl.append("tspan").attr("font-size", 10).attr("font-style", "italic").attr("dy", 3).text("a,b");
    yl.append("tspan").attr("dy", -3).text("(\u03BE");
    yl.append("tspan").attr("font-size", 10).attr("dy", 3).text("1");
    yl.append("tspan").attr("dy", -3).text(", 0, 0, ");
    yl.append("tspan").attr("font-style", "italic").text("\u03C4");
    yl.append("tspan").text(")");

    // x label
    var xl = g.append("text")
        .attr("x", 147).attr("y", 251)
        .attr("font-family", serif)
        .attr("font-size", 16)
        .attr("fill", "#222");
    xl.append("tspan").attr("font-style", "italic").text("\u03C4");
    xl.append("tspan").text("\uD835\uDCB0");
    xl.append("tspan").attr("font-size", 11).attr("dy", 3).text("edge");
    xl.append("tspan").attr("dy", -3).text("/");
    xl.append("tspan").attr("font-style", "italic").text("c");

    // caption
    var cap = g.append("text")
        .attr("x", 152).attr("y", 269)
        .attr("text-anchor", "middle")
        .attr("fill", "#222");
    cap.append("tspan").attr("font-family", "'Liberation Sans', Arial, sans-serif")
        .attr("font-weight", "bold").attr("font-size", 10.5).text("(" + panelLetters[pi] + ") ");
    cap.append("tspan").attr("font-family", serif).attr("font-size", 12).text("\uD835\uDC9E");
    cap.append("tspan").attr("font-family", serif).attr("font-size", 8).attr("dy", 2.5)
        .text(captionIndex[pi] + ",");
    cap.append("tspan").attr("font-family", serif).attr("font-size", 8).attr("font-style", "italic").text("c");
    cap.append("tspan").attr("font-family", serif).attr("font-size", 6).attr("dy", 1.5).text(captionSub[pi]);

    // colorbar
    var cb = d3.scaleLinear().domain([0, 0.36]).range([plotB, 27.5]);
    var bands = xiLevels.slice(0, 36);
    g.selectAll(".band")
        .data(bands)
        .enter().append("rect")
        .attr("x", 283).attr("width", 10.3)
        .attr("y", function (d) { return cb(d + 0.01); })
        .attr("height", function (d) { return cb(d) - cb(d + 0.01) + 0.3; })
        .attr("fill", function (d) { return color(d + 0.005); });
    g.selectAll(".cbt")
        .data([0.04, 0.08, 0.12, 0.16, 0.2, 0.24, 0.28, 0.32])
        .enter().append("line")
        .attr("x1", 290.5).attr("x2", 293.3)
        .attr("y1", function (d) { return cb(d); })
        .attr("y2", function (d) { return cb(d); })
        .attr("stroke", "#333").attr("stroke-opacity", 0.5).attr("stroke-width", 0.6);
    g.append("rect")
        .attr("x", 283).attr("y", 27.5)
        .attr("width", 10.3).attr("height", plotB - 27.5)
        .attr("fill", "none").attr("stroke", "#666").attr("stroke-width", 0.6);
    g.append("text")
        .attr("x", 294.5).attr("y", cb(0.36) + 7)
        .attr("font-family", serif).attr("font-size", 11).attr("fill", "#222")
        .text("0.36");
    g.append("text")
        .attr("x", 294.5).attr("y", cb(0) + 3.5)
        .attr("font-family", serif).attr("font-size", 11).attr("fill", "#222")
        .text("0.00");

    var ct = g.append("text")
        .attr("x", 271).attr("y", 18)
        .attr("font-family", serif)
        .attr("font-size", 17)
        .attr("fill", "#222");
    ct.append("tspan").text("\u03BE");
    ct.append("tspan").attr("font-size", 11).attr("dy", 4).text("1");
    ct.append("tspan").attr("dy", -4).text("/");
    ct.append("tspan").attr("font-style", "italic").text("c");
});
</script>
</body>
</html>
